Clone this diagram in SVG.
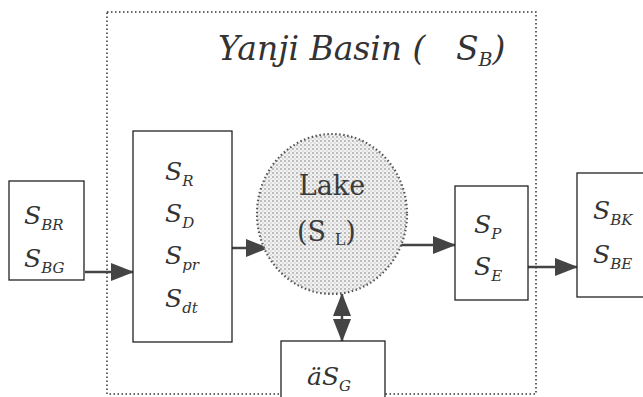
<svg xmlns="http://www.w3.org/2000/svg" width="643" height="397" viewBox="0 0 643 397">
<style>
.box{fill:#fff;stroke:#222;stroke-width:1.3}
.t{font-family:"DejaVu Serif","Liberation Serif",serif;font-style:italic;fill:#333;font-size:25px}
.s{font-size:15px}
.r{font-family:"DejaVu Serif","Liberation Serif",serif;fill:#3a3a3a;font-size:27px}
.c{stroke:#444;stroke-width:2.5;fill:none}
</style>
<defs>
<marker id="arr" markerWidth="24" markerHeight="20" refX="22" refY="10" orient="auto-start-reverse" markerUnits="userSpaceOnUse">
<path d="M0,1 L23,10 L0,19 z" fill="#444"/>
</marker>
<pattern id="dots" width="4" height="4" patternUnits="userSpaceOnUse">
<rect width="4" height="4" fill="#f2f2f2"/>
<circle cx="1" cy="1" r="0.9" fill="#a4a4a4"/>
<circle cx="3" cy="3" r="0.7" fill="#c0c0c0"/>
</pattern>
</defs>
<rect width="643" height="397" fill="#fff"/>
<g id="basin">
<rect x="107" y="12" width="429" height="382" fill="none" stroke="#333" stroke-width="1.5" stroke-dasharray="1.5 2.5"/>
<text class="t" x="218" y="60" style="font-size:33px">Yanji Basin (<tspan x="456">S</tspan><tspan dy="6" style="font-size:19px">B</tspan><tspan dy="-6">)</tspan></text>
</g>
<g id="connectors">
<line class="c" x1="85" y1="272" x2="133" y2="272" marker-end="url(#arr)"/>
<line class="c" x1="217" y1="248" x2="268" y2="248" marker-end="url(#arr)"/>
<line class="c" x1="383" y1="245" x2="455" y2="245" marker-end="url(#arr)"/>
<line class="c" x1="528" y1="267" x2="577" y2="267" marker-end="url(#arr)"/>
<line class="c" x1="342" y1="294" x2="342" y2="341" marker-start="url(#arr)" marker-end="url(#arr)"/>
</g>
<g id="n_in">
<rect class="box" x="9" y="181" width="75" height="99"/>
<text class="t" x="24" y="224">S<tspan class="s" dy="6">BR</tspan></text>
<text class="t" x="24" y="267">S<tspan class="s" dy="6">BG</tspan></text>
</g>
<g id="n_src">
<rect class="box" x="133" y="131" width="99" height="211"/>
<text class="t" x="165" y="180">S<tspan class="s" dy="6">R</tspan></text>
<text class="t" x="165" y="222">S<tspan class="s" dy="6">D</tspan></text>
<text class="t" x="165" y="264">S<tspan class="s" dy="6">pr</tspan></text>
<text class="t" x="165" y="307">S<tspan class="s" dy="6">dt</tspan></text>
</g>
<g id="n_lake">
<ellipse cx="332" cy="214" rx="75" ry="80" fill="url(#dots)" stroke="#555" stroke-width="2.2" stroke-dasharray="1.5 2.5"/>
<text class="r" x="332" y="195" text-anchor="middle">Lake</text>
<text class="r" x="297" y="241">(S <tspan font-size="16" dy="4">L</tspan><tspan dy="-4">)</tspan></text>
</g>
<g id="n_out">
<rect class="box" x="455" y="186" width="73" height="114"/>
<text class="t" x="474" y="233">S<tspan class="s" dy="6">P</tspan></text>
<text class="t" x="474" y="275">S<tspan class="s" dy="6">E</tspan></text>
</g>
<g id="n_right">
<rect class="box" x="577" y="173" width="70" height="124"/>
<text class="t" x="593" y="219">S<tspan class="s" dy="6">BK</tspan></text>
<text class="t" x="593" y="263">S<tspan class="s" dy="6">BE</tspan></text>
</g>
<g id="n_g">
<rect class="box" x="281" y="341" width="104" height="60"/>
<text class="t" x="307" y="385">äS<tspan class="s" dy="6">G</tspan></text>
</g>
</svg>
